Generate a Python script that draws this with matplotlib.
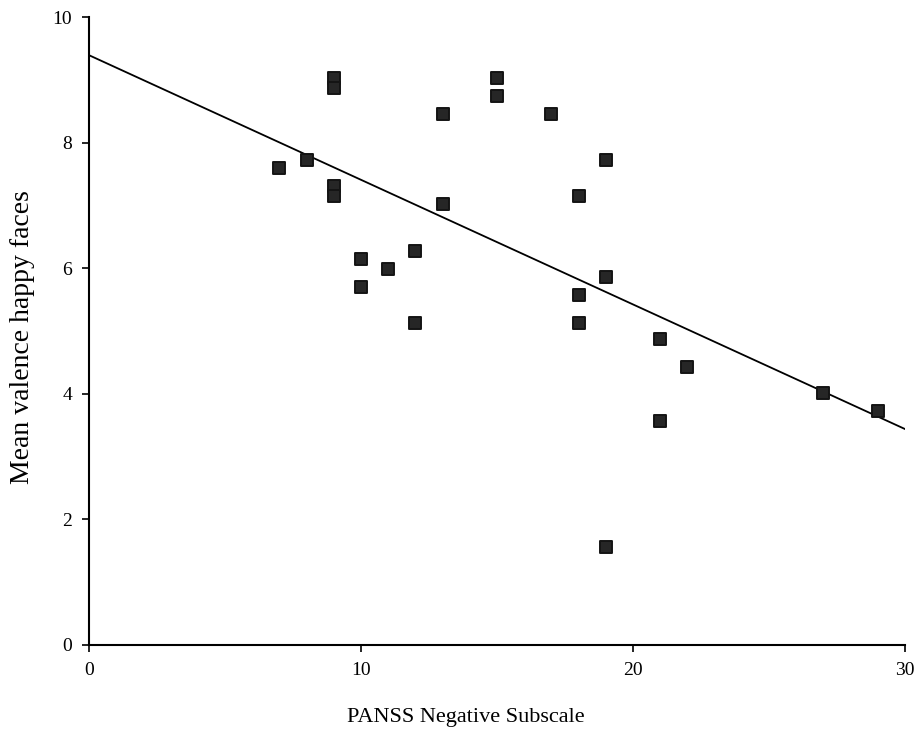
import matplotlib
matplotlib.use("Agg")
import matplotlib.pyplot as plt
import numpy as np

plt.rcParams['font.family'] = ['Liberation Serif', 'DejaVu Serif']

# PANSS negative subscale score per participant
panss_neg = [7, 8, 9, 9, 9, 9, 10, 10, 11, 12, 12, 13, 13, 15, 15, 17,
             18, 18, 18, 19, 19, 19, 21, 21, 22, 27, 29]
# mean valence rating of happy faces
valence_happy = [7.60, 7.72, 9.03, 8.87, 7.31, 7.15, 6.15, 5.70, 5.99, 6.27, 5.13,
                 8.46, 7.02, 9.03, 8.74, 8.46, 7.15, 5.57, 5.13, 7.72, 5.86, 1.56,
                 4.87, 3.57, 4.43, 4.01, 3.73]

x = np.array(panss_neg, dtype=float)
y = np.array(valence_happy)
slope, intercept = np.polyfit(x, y, 1)

fig = plt.figure(figsize=(9.2, 7.4), dpi=100)
ax = fig.add_axes([0.0967, 0.1284, 0.887, 0.8486])

xx = np.array([0, 30])
ax.plot(xx, intercept + slope * xx, color='black', lw=1.3, zorder=2)
pts = ax.scatter(x, y, marker='s', s=70, color='#262626', edgecolor='#141414',
                 linewidth=1.4, zorder=3)
pts.set_joinstyle('round')

ax.set_xlim(0, 30)
ax.set_ylim(0, 10)
ax.set_xticks([0, 10, 20, 30])
ax.set_yticks([0, 2, 4, 6, 8, 10])
for s in ['top', 'right']:
    ax.spines[s].set_visible(False)
for s in ['left', 'bottom']:
    ax.spines[s].set_linewidth(1.5)
ax.tick_params(direction='out', length=5, width=1.2, labelsize=14, pad=7)
ax.set_xlabel('PANSS Negative Subscale', fontsize=16)
ax.set_ylabel('Mean valence happy faces', fontsize=20)
ax.xaxis.set_label_coords(0.462, -0.1)
ax.yaxis.set_label_coords(-0.066, 0.49)

fig.savefig('out.png', dpi=100)
